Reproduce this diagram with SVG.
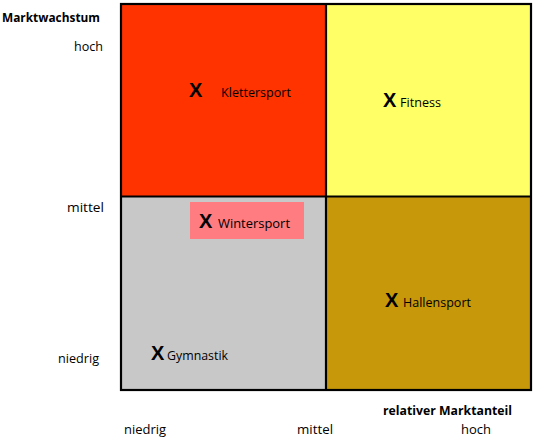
<svg xmlns="http://www.w3.org/2000/svg" width="533" height="442" viewBox="0 0 533 442">
<style>
.lbl{font-family:"Open Sans","DejaVu Sans",sans-serif;font-size:12.5px;fill:#000}
.b{font-weight:bold}
.x{font-family:"Liberation Sans",Arial,sans-serif;font-size:20px;font-weight:bold;fill:#000}
.q{stroke:none}
</style>
<rect width="533" height="442" fill="#fff"/>
<g id="quadrants">
<rect id="q-tl" class="q" x="121" y="4" width="205" height="192.5" fill="#FF3300"/>
<rect id="q-tr" class="q" x="326" y="4" width="205" height="192.5" fill="#FFFF66"/>
<rect id="q-bl" class="q" x="121" y="196.5" width="205" height="193.5" fill="#C8C8C8"/>
<rect id="q-br" class="q" x="326" y="196.5" width="205" height="193.5" fill="#C6980A"/>
</g>
<g id="grid" fill="none" stroke="#000" stroke-width="2.2">
<rect x="121" y="4" width="410" height="386"/>
<line x1="326" y1="4" x2="326" y2="390"/>
<line x1="121" y1="196.5" x2="531" y2="196.5"/>
</g>
<g id="axis-y">
<text class="lbl b" x="2" y="22" textLength="98" lengthAdjust="spacingAndGlyphs">Marktwachstum</text>
<text class="lbl" x="74" y="51" textLength="29" lengthAdjust="spacingAndGlyphs">hoch</text>
<text class="lbl" x="67" y="212" textLength="37" lengthAdjust="spacingAndGlyphs">mittel</text>
<text class="lbl" x="58" y="363" textLength="41" lengthAdjust="spacingAndGlyphs">niedrig</text>
</g>
<g id="axis-x">
<text class="lbl b" x="383" y="415" textLength="129" lengthAdjust="spacingAndGlyphs">relativer Marktanteil</text>
<text class="lbl" x="124" y="434" textLength="42" lengthAdjust="spacingAndGlyphs">niedrig</text>
<text class="lbl" x="297" y="434" textLength="36" lengthAdjust="spacingAndGlyphs">mittel</text>
<text class="lbl" x="461" y="434" textLength="30" lengthAdjust="spacingAndGlyphs">hoch</text>
</g>
<g id="klettersport">
<text class="x" x="189" y="97">X</text>
<text class="lbl" x="221" y="97" textLength="70" lengthAdjust="spacingAndGlyphs">Klettersport</text>
</g>
<g id="fitness">
<text class="x" x="383" y="107">X</text>
<text class="lbl" x="400" y="107" textLength="41" lengthAdjust="spacingAndGlyphs">Fitness</text>
</g>
<g id="wintersport">
<rect x="190" y="202" width="114" height="37" fill="#FF7C80"/>
<text class="x" x="199" y="228">X</text>
<text class="lbl" x="218" y="228" textLength="72" lengthAdjust="spacingAndGlyphs">Wintersport</text>
</g>
<g id="hallensport">
<text class="x" x="385" y="307">X</text>
<text class="lbl" x="403" y="307" textLength="68" lengthAdjust="spacingAndGlyphs">Hallensport</text>
</g>
<g id="gymnastik">
<text class="x" x="151" y="360">X</text>
<text class="lbl" x="167" y="360" textLength="61" lengthAdjust="spacingAndGlyphs">Gymnastik</text>
</g>
</svg>
